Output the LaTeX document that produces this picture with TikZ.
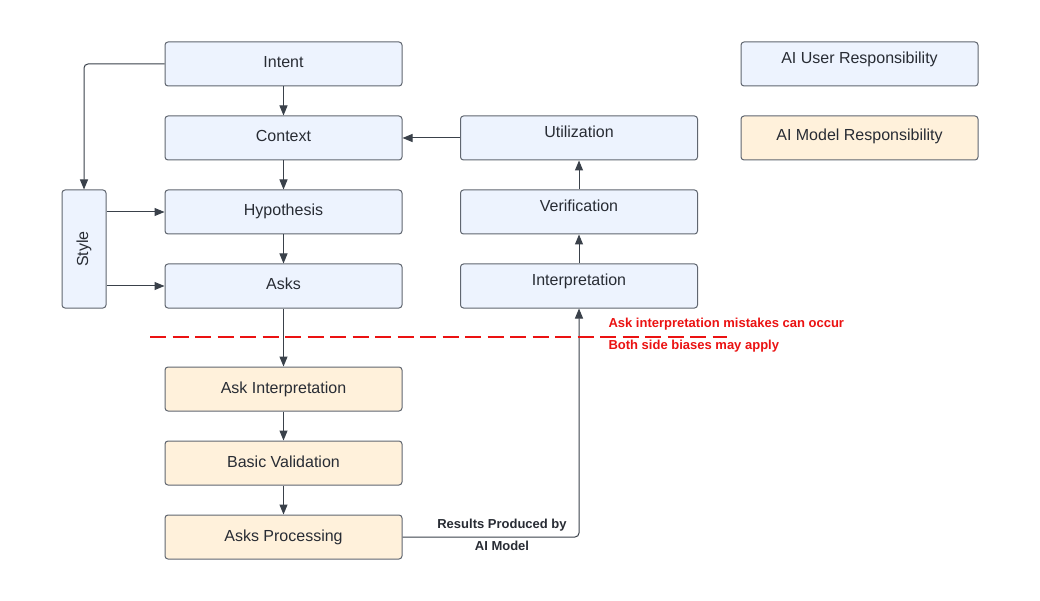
\documentclass[tikz,border=0pt]{standalone}
\usepackage{fontspec}
\setmainfont{Liberation Sans}
\usetikzlibrary{arrows.meta}
\definecolor{ublue}{RGB}{237,243,254}
\definecolor{myell}{RGB}{255,241,219}
\definecolor{bord}{RGB}{96,102,112}
\definecolor{arr}{RGB}{58,65,74}
\definecolor{mred}{RGB}{235,18,18}
\definecolor{txt}{RGB}{40,44,52}
\tikzset{
  box/.style={draw=bord, line width=1pt, rounded corners=3pt, minimum width=237pt, minimum height=44pt,
    inner sep=0pt, font=\fontsize{16}{19}\selectfont, text=txt, text height=12pt, text depth=4pt},
  ubox/.style={box, fill=ublue},
  mbox/.style={box, fill=myell},
  up6/.style={text depth=12pt},
  up3/.style={text depth=7pt},
  conn/.style={draw=arr, line width=1pt, -{Triangle[length=10pt,width=8pt]}},
}
\begin{document}
\begin{tikzpicture}[x=1pt,y=-1pt]
\useasboundingbox[fill=white] (0,0) rectangle (1040,601);
% left column
\node[ubox] (intent) at (283.5,64) {Intent};
\node[ubox] (context) at (283.5,138) {Context};
\node[ubox] (hyp) at (283.5,212) {Hypothesis};
\node[ubox] (asks) at (283.5,286) {Asks};
\node[ubox, minimum width=44pt, minimum height=118pt, text height=12pt, text depth=0pt] (style) at (84,249) {};
\node[rotate=90, font=\fontsize{16}{19}\selectfont, text=txt] (stylet) at (84,249) {Style};
% right column
\node[ubox, up6] (util) at (579,138) {Utilization};
\node[ubox, up6] (verif) at (579,212) {Verification};
\node[ubox, up6] (interp) at (579,286) {Interpretation};
% model column
\node[mbox] (askint) at (283.5,389) {Ask Interpretation};
\node[mbox] (basval) at (283.5,463) {Basic Validation};
\node[mbox] (askproc) at (283.5,537) {Asks Processing};
% legend
\node[ubox, up6] (leguser) at (859.5,64) {AI User Responsibility};
\node[mbox, up3] (legmodel) at (859.5,138) {AI Model Responsibility};
% connectors
\draw[conn] (intent) -- (context);
\draw[conn] (context) -- (hyp);
\draw[conn] (hyp) -- (asks);
\draw[conn] (asks) -- (askint);
\draw[conn] (askint) -- (basval);
\draw[conn] (basval) -- (askproc);
\draw[conn] (util) -- (context);
\draw[conn] (verif) -- (util);
\draw[conn] (interp) -- (verif);
\draw[conn, rounded corners=4pt] (intent.west) -| (style.north);
\draw[conn] (style.east |- hyp.west) -- (hyp.west);
\draw[conn] (style.east |- asks.west) -- (asks.west);
\draw[conn, rounded corners=4pt] (askproc.east) -| (interp.south);
% label on return connector
\node[font=\fontsize{13}{22}\selectfont\bfseries, text=txt, align=center] (reslbl) at (502,535) {Results Produced by\\AI Model};
% dashed boundary
\coordinate (dA) at (150,337);
\coordinate (dB) at (727,337);
\draw[mred, line width=1.3pt, dash pattern=on 16pt off 6.5pt] (dA) -- (dB);
\node[anchor=west, font=\fontsize{13}{22}\selectfont\bfseries, text=mred, align=left] (note) at (605,335) {Ask interpretation mistakes can occur\\Both side biases may apply};
\end{tikzpicture}
\end{document}
